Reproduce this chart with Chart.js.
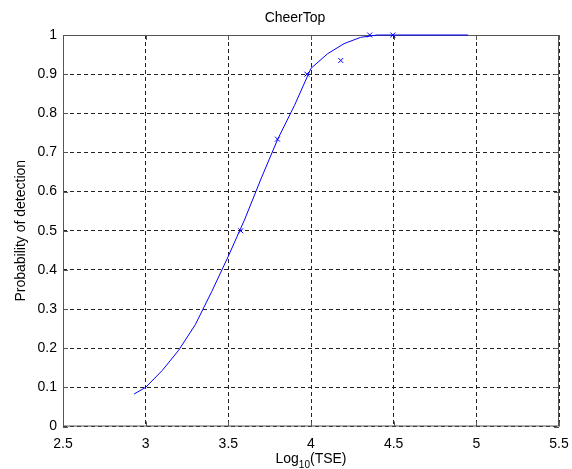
<!DOCTYPE html>
<html>
<head>
<meta charset="utf-8">
<script src="https://cdn.jsdelivr.net/npm/chart.js@4"></script>
<style>
  html, body { margin: 0; padding: 0; background: #fff; }
  #wrap { width: 572px; height: 469px; }
</style>
</head>
<body>
<div id="wrap"><canvas id="probChart" width="572" height="469"></canvas></div>
<script>
// fitted curve
const curveX = [2.93, 3.0, 3.1, 3.2, 3.3, 3.4, 3.5, 3.6, 3.7, 3.8, 3.9, 4.0, 4.1, 4.2, 4.3, 4.4, 4.5, 4.95];
const curveY = [0.083, 0.10, 0.143, 0.195, 0.26, 0.345, 0.435, 0.53, 0.635, 0.735, 0.82, 0.915, 0.952, 0.978, 0.994, 1.0, 1.0, 1.0];

// measured points (x markers)
const markX = [3.575, 3.797, 3.975, 4.18, 4.355, 4.495];
const markY = [0.5, 0.734, 0.9, 0.935, 1.0, 1.0];

const chartTitle = 'CheerTop';
const yLabel = 'Probability of detection';

const FONT = "'Liberation Sans', Arial, sans-serif";
const BLUE = 'rgb(0,0,255)';

// titles, box and inward ticks like the matlab figure
const matlabFrame = {
    id: 'matlabFrame',
    beforeDatasetsDraw(chart) {
        const ctx = chart.ctx;
        const a = chart.chartArea;
        const xs = chart.scales.x, ys = chart.scales.y;
        ctx.save();

        // box
        ctx.strokeStyle = '#555';
        ctx.lineWidth = 1;
        ctx.setLineDash([]);
        ctx.strokeRect(a.left + 0.5, a.top + 0.5, a.right - a.left - 1, a.bottom - a.top - 1);

        // small ticks pointing in
        ctx.beginPath();
        xs.ticks.forEach(t => {
            const px = Math.round(xs.getPixelForValue(t.value)) + 0.5;
            ctx.moveTo(px, a.bottom); ctx.lineTo(px, a.bottom - 5);
            ctx.moveTo(px, a.top); ctx.lineTo(px, a.top + 5);
        });
        ys.ticks.forEach(t => {
            const py = Math.round(ys.getPixelForValue(t.value)) + 0.5;
            ctx.moveTo(a.left, py); ctx.lineTo(a.left + 5, py);
            ctx.moveTo(a.right, py); ctx.lineTo(a.right - 5, py);
        });
        ctx.stroke();
        ctx.restore();
    },
    afterDraw(chart) {
        const ctx = chart.ctx;
        const a = chart.chartArea;
        ctx.save();
        ctx.fillStyle = '#000';
        ctx.textBaseline = 'alphabetic';

        // title
        ctx.font = '14px ' + FONT;
        ctx.textAlign = 'center';
        ctx.fillText(chartTitle, 295, 22);

        // x label with subscript
        const cx = (a.left + a.right) / 2;
        ctx.textAlign = 'left';
        ctx.font = '14px ' + FONT;
        const w1 = ctx.measureText('Log').width;
        const w3 = ctx.measureText('(TSE)').width;
        ctx.font = '10px ' + FONT;
        const w2 = ctx.measureText('10').width;
        let x0 = cx - (w1 + w2 + w3) / 2;
        ctx.font = '14px ' + FONT;
        ctx.fillText('Log', x0, 463);
        ctx.font = '10px ' + FONT;
        ctx.fillText('10', x0 + w1, 468);
        ctx.font = '14px ' + FONT;
        ctx.fillText('(TSE)', x0 + w1 + w2, 463);

        // y label
        ctx.translate(21, (a.top + a.bottom) / 2);
        ctx.rotate(-Math.PI / 2);
        ctx.textAlign = 'center';
        ctx.textBaseline = 'middle';
        ctx.fillText(yLabel, 0, 0);

        ctx.restore();
    }
};

const ctx = document.getElementById('probChart').getContext('2d');

new Chart(ctx, {
    type: 'scatter',
    data: {
        datasets: [{
            label: 'fit',
            data: curveX.map((x, i) => ({ x: x, y: curveY[i] })),
            showLine: true,
            borderColor: BLUE,
            borderWidth: 1,
            pointRadius: 0,
            tension: 0,
            fill: false,
            clip: false
        }, {
            label: 'data',
            data: markX.map((x, i) => ({ x: x, y: markY[i] })),
            showLine: false,
            pointStyle: 'crossRot',
            pointRadius: 3.5,
            borderColor: BLUE,
            backgroundColor: BLUE,
            pointBorderColor: BLUE,
            pointBackgroundColor: BLUE,
            pointBorderWidth: 1,
            clip: false
        }]
    },
    options: {
        responsive: false,
        animation: false,
        layout: { padding: { top: 35, right: 13, left: 0, bottom: 0 } },
        plugins: {
            legend: { display: false },
            title: { display: false },
            tooltip: { enabled: false }
        },
        scales: {
            x: {
                type: 'linear',
                min: 2.5,
                max: 5.5,
                afterFit: s => { s.height = 42.5; s.paddingLeft = 0; s.paddingRight = 0; },
                ticks: {
                    stepSize: 0.5,
                    color: '#000',
                    padding: 9,
                    maxRotation: 0,
                    autoSkip: false,
                    font: { family: FONT, size: 14 },
                    callback: v => String(v)
                },
                grid: {
                    color: '#222',
                    lineWidth: 1,
                    drawTicks: false
                },
                border: { display: false, dash: [4, 3] }
            },
            y: {
                min: 0,
                max: 1,
                afterFit: s => { s.width = 63; s.paddingTop = 0; s.paddingBottom = 0; },
                ticks: {
                    stepSize: 0.1,
                    color: '#000',
                    padding: 6,
                    autoSkip: false,
                    font: { family: FONT, size: 14 },
                    callback: v => String(Math.round(v * 10) / 10)
                },
                grid: {
                    color: '#222',
                    lineWidth: 1,
                    drawTicks: false
                },
                border: { display: false, dash: [4, 3] }
            }
        }
    },
    plugins: [matlabFrame]
});
</script>
</body>
</html>
